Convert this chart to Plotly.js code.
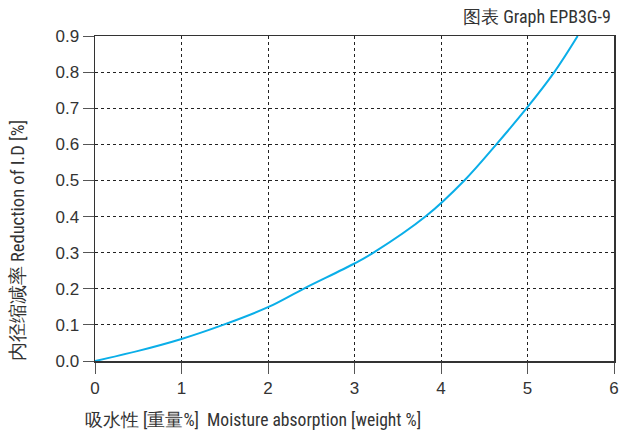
<!DOCTYPE html>
<html>
<head>
<meta charset="utf-8">
<script src="https://cdn.plot.ly/plotly-3.0.1.min.js"></script>
<style>html,body{margin:0;padding:0;background:#fff;}#chart{width:629px;height:430px;}</style>
</head>
<body>
<div id="chart"></div>
<script>
// Data
const moistureX = [0, 0.5, 1, 1.48, 2, 2.41, 3, 3.22, 3.82, 4.27, 4.64, 4.99, 5.31, 5.58];
const reductionY = [0, 0.028, 0.061, 0.1, 0.149, 0.2, 0.27, 0.3, 0.4, 0.5, 0.6, 0.7, 0.8, 0.9];
const xTickVals = [0, 1, 2, 3, 4, 5, 6];
const yTickVals = [0, 0.1, 0.2, 0.3, 0.4, 0.5, 0.6, 0.7, 0.8, 0.9];
const chartTitle = '图表 Graph EPB3G-9';
const xTitle = '吸水性 [重量%]&nbsp; Moisture absorption [weight %]';
const yTitle = '内径缩减率 Reduction of I.D [%]';

const narrow = 'Roboto Condensed';
const tickFont = 'Liberation Sans';

const trace = {
  x: moistureX,
  y: reductionY,
  type: 'scatter',
  mode: 'lines',
  line: {color: '#0aaee8', width: 2, shape: 'spline', smoothing: 1.0},
  hoverinfo: 'skip'
};

const axisCommon = {
  showline: true,
  linecolor: '#333',
  linewidth: 1.5,
  mirror: true,
  showgrid: true,
  gridcolor: '#222',
  gridwidth: 1,
  griddash: 'dot',
  zeroline: false,
  ticks: 'outside',
  tickcolor: '#555',
  tickwidth: 1,
  ticklen: 11,
  tickfont: {family: tickFont, size: 17, color: '#333'}
};

const layout = {
  width: 629,
  height: 430,
  margin: {l: 95, r: 15, t: 36, b: 69},
  paper_bgcolor: '#fff',
  plot_bgcolor: '#fff',
  showlegend: false,
  xaxis: Object.assign({}, axisCommon, {
    range: [0, 6],
    tickvals: xTickVals,
    ticktext: xTickVals.map(String)
  }),
  yaxis: Object.assign({}, axisCommon, {
    range: [0, 0.9],
    tickvals: yTickVals,
    ticktext: yTickVals.map(v => v.toFixed(1))
  }),
  annotations: [
    {text: chartTitle, xref: 'paper', yref: 'paper', x: 0.998, y: 1.0585,
     xanchor: 'right', yanchor: 'middle', showarrow: false,
     font: {family: narrow, size: 18, color: '#333'}},
    {text: xTitle, xref: 'paper', yref: 'paper', x: -0.0231, y: -0.18,
     xanchor: 'left', yanchor: 'middle', showarrow: false,
     font: {family: narrow, size: 17.6, color: '#333'}},
    {text: yTitle, xref: 'paper', yref: 'paper', x: -0.148, y: 0.369,
     xanchor: 'center', yanchor: 'middle', textangle: -90, showarrow: false,
     font: {family: narrow, size: 18.5, color: '#333'}}
  ]
};

Plotly.newPlot('chart', [trace], layout, {staticPlot: true, displayModeBar: false});
</script>
</body>
</html>
